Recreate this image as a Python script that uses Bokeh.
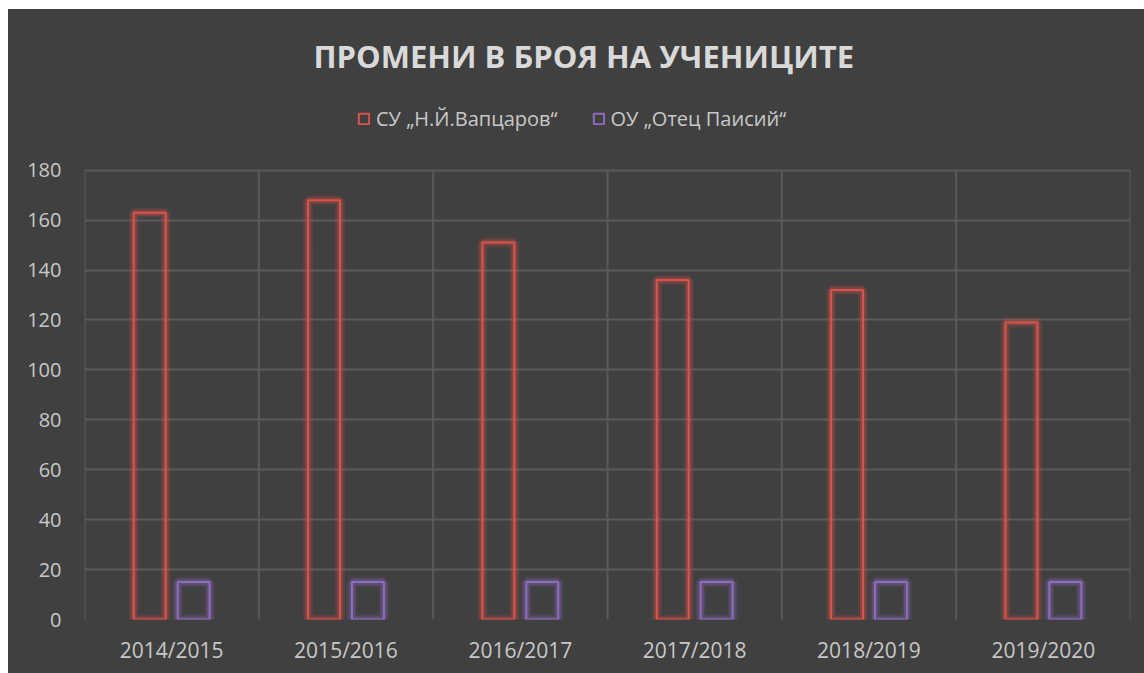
import numpy as np
from bokeh.plotting import figure
from bokeh.models import Range1d, FixedTicker, Legend, LegendItem, ColumnDataSource
from bokeh.embed import file_html
from bokeh.resources import INLINE

categories = ["2014/2015", "2015/2016", "2016/2017", "2017/2018", "2018/2019", "2019/2020"]
series_names = ["СУ „Н.Й.Вапцаров“", "ОУ „Отец Паисий“"]
su_values = [163, 168, 151, 136, 132, 119]
ou_values = [15, 15, 15, 15, 15, 15]
y_ticks = [0, 20, 40, 60, 80, 100, 120, 140, 160, 180]

colors = ["#dc524c", "#8f6cc0"]
FONT = "Open Sans"
BG = "#404040"
GRID = "#5a5a5a"

n = len(categories)
ymax = max(y_ticks)
centers = np.arange(n) + 0.5
src = ColumnDataSource(dict(
    x_su=centers - 0.126, x_ou=centers + 0.126,
    su=su_values, ou=ou_values,
))
bounds = np.arange(n + 1)

# frame extends above the value area so the legend can sit inside it
p = figure(width=1136, height=664, output_backend="svg", toolbar_location=None,
           x_range=Range1d(0, n), y_range=Range1d(0, ymax * 521 / 451),
           background_fill_color=BG, border_fill_color=BG,
           min_border_left=76, min_border_right=14, min_border_bottom=54,
           min_border_top=89,
           styles={"margin-left": "8px", "margin-top": "9px",
                   "background-color": BG})

p.title.text = "ПРОМЕНИ В БРОЯ НА УЧЕНИЦИТЕ"
p.title.align = "left"
p.title.offset = 229
p.title.text_font = FONT
p.title.text_font_size = "31px"
p.title.text_font_style = "bold"
p.title.text_color = "#d9d9d9"
p.title.standoff = 47

p.outline_line_color = None

# grids
p.xgrid.grid_line_color = None
p.ygrid.ticker = FixedTicker(ticks=y_ticks)
p.ygrid.grid_line_color = GRID
p.ygrid.grid_line_width = 2
p.segment(x0=bounds, y0=0, x1=bounds, y1=ymax, line_color=GRID, line_width=2)

# axes
p.xaxis.ticker = FixedTicker(ticks=list(centers))
p.xaxis.major_label_overrides = {float(c): cat for c, cat in zip(centers, categories)}
p.yaxis.ticker = FixedTicker(ticks=y_ticks)
for ax in (p.xaxis[0], p.yaxis[0]):
    ax.axis_line_color = None
    ax.major_tick_line_color = None
    ax.minor_tick_line_color = None
    ax.major_tick_out = 0
    ax.major_tick_in = 0
    ax.major_label_text_font = FONT
    ax.major_label_text_color = "#c8c8c8"
p.xaxis.major_label_text_font_size = "21px"
p.yaxis.major_label_text_font_size = "20px"
p.xaxis.major_label_standoff = 16
p.yaxis.major_label_standoff = 23

W = 0.183
# glow
for xk, yk, c in (("x_su", "su", colors[0]), ("x_ou", "ou", colors[1])):
    p.vbar(x=xk, top=yk, bottom=0, width=W, source=src, fill_color=None,
           line_color=c, line_width=10, line_alpha=0.16)
    p.vbar(x=xk, top=yk, bottom=0, width=W, source=src, fill_color=None,
           line_color=c, line_width=6, line_alpha=0.28)

r1 = p.vbar(x="x_su", top="su", bottom=0, width=W, source=src, fill_color=None,
            line_color=colors[0], line_width=2)
r2 = p.vbar(x="x_ou", top="ou", bottom=0, width=W, source=src, fill_color=None,
            line_color=colors[1], line_width=2)

legend = Legend(items=[LegendItem(label=series_names[0], renderers=[r1]),
                       LegendItem(label=series_names[1], renderers=[r2])],
                orientation="horizontal", location=(273, 487),
                background_fill_alpha=0,
                border_line_color=None,
                label_text_font=FONT, label_text_font_size="20px",
                label_text_color="#c8c8c8",
                glyph_width=13, glyph_height=13, spacing=34,
                label_standoff=6, margin=0, padding=4)
p.add_layout(legend, "center")

open("out.html", "w").write(file_html(p, INLINE))
